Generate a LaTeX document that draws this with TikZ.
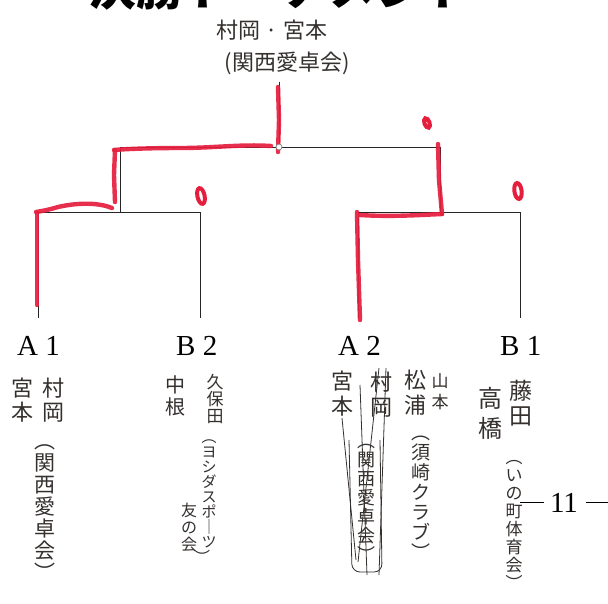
\documentclass[tikz,border=0pt]{standalone}
\usepackage{fontspec}
\setmainfont{Liberation Serif}
\newfontfamily\jp{Noto Sans CJK JP}
\definecolor{ink}{RGB}{52,48,46}
\definecolor{marker}{RGB}{230,30,62}
\tikzset{
  wire/.style={draw=black!85, line width=0.8pt},
  redpen/.style={draw=marker, line width=4.4pt, line cap=round, line join=round, opacity=0.92},
  zero/.style={draw=marker, line width=4pt},
  hw/.style={font=\jp\fontsize{#1}{#1}\selectfont, text=ink, align=center, inner sep=0pt},
  hw/.default=20,
  lbl/.style={font=\fontsize{29}{29}\selectfont, inner sep=0pt, anchor=base west},
  scrib/.style={draw=ink, line width=0.8pt},
}
\begin{document}
\begin{tikzpicture}[x=1pt,y=-1pt]
\useasboundingbox (0,0) rectangle (608,603);
\fill[white] (0,0) rectangle (608,603);
% title (mostly cut off, as in the reference)
\node[font=\jp\bfseries\fontsize{48}{48}\selectfont, anchor=base west, inner sep=0pt] (title) at (88,5) {決勝トーナメント};
% champion
\node[hw=22] (champ) at (272,30) {村岡 · 宮本};
\node[hw=22] (champclub) at (287,63) {(関西愛卓会)};
% bracket coordinates
\coordinate (top) at (279,82);
\coordinate (j0) at (279,147);
\coordinate (l1) at (120,147);
\coordinate (r1) at (440,147);
\coordinate (l1b) at (120,212);
\coordinate (r1b) at (440,212);
\coordinate (a1t) at (38,212);  \coordinate (a1b) at (38,318);
\coordinate (b2t) at (200,212); \coordinate (b2b) at (200,318);
\coordinate (a2t) at (358,212); \coordinate (a2b) at (358,318);
\coordinate (b1t) at (520,212); \coordinate (b1b) at (520,318);
\draw[wire] (top) -- (j0);
\draw[wire] (l1b) -- (l1) -- (r1) -- (r1b);
\draw[wire] (a1b) -- (a1t) -- (b2t) -- (b2b);
\draw[wire] (a2b) -- (a2t) -- (b1t) -- (b1b);
% red marker
\draw[redpen] (278,87) -- (279,120) -- (278,152);
\draw[redpen] (271,146) .. controls (240,144) and (215,148) .. (180,148) .. controls (150,148) and (125,149) .. (114,150);
\draw[redpen] (115,150) -- (114,175) -- (115,202);
\draw[redpen] (112,208) .. controls (100,203) and (80,202) .. (58,207) .. controls (48,210) and (42,211) .. (36,212);
\draw[redpen] (37,213) -- (37,260) -- (37,305);
\draw[redpen] (438,144) -- (439,180) -- (442,214);
\draw[redpen] (442,214) .. controls (420,215) and (390,217) .. (360,215);
\draw[redpen] (357,212) -- (358,260) -- (360,320);
\draw[gray, line width=0.7pt, fill=white] (j0) circle (3);
\draw[zero] (427,123) ellipse [x radius=2.6, y radius=5, rotate=20];
\draw[zero] (201,196) ellipse [x radius=3.6, y radius=8, rotate=12];
\draw[zero] (518,191) ellipse [x radius=3.6, y radius=8, rotate=8];
% labels
\node[lbl] (A1) at (17,355) {A 1};
\node[lbl] (B2) at (176,355) {B 2};
\node[lbl] (A2) at (338,355) {A 2};
\node[lbl] (B1) at (500,355) {B 1};
% A1 names
\node[hw=22] (a1n1) at (53,400) {村\\[2pt]岡};
\node[hw=22] (a1n2) at (22,400) {宮\\[2pt]本};
\node[hw=21] (a1club) at (45,513) {︵\\[1pt]関\\[1pt]西\\[1pt]愛\\[1pt]卓\\[1pt]会\\[1pt]︶};
% B2 names
\node[hw=17] (b2n1) at (215,399) {久\\保\\田};
\node[hw=20] (b2n2) at (175,396) {中\\[2pt]根};
\node[hw=15] (b2club1) at (209,494) {︵\\ヨ\\シ\\ダ\\ス\\ポ\\｜\\ツ};
\node[hw=16] (b2club2) at (189,527) {友\\[1pt]の\\[1pt]会};
\node[hw=16] (b2close) at (202,557) {︶};
% A2 names
\node[hw=22] (a2n1) at (381,395) {村\\[3pt]岡};
\node[hw=22] (a2n2) at (342,394) {宮\\[3pt]本};
\node[hw=18] (a2club) at (366,503) {︵\\[1pt]関\\[1pt]西\\[1pt]愛\\[1pt]卓\\[1pt]会\\[1pt]︶};
\node[hw=17] (a2n3) at (440,392) {山\\[4pt]本};
\node[hw=22] (a2n4) at (415,393) {松\\[3pt]浦};
\node[hw=19] (a2club2) at (421,498) {︵\\[1pt]須\\[1pt]崎\\[1pt]ク\\[1pt]ラ\\[1pt]ブ\\[1pt]︶};
% A2 scribbles
\draw[scrib] (360,385) -- (367,575);
\draw[scrib] (379,368) -- (358,562);
\draw[scrib] (386,368) -- (379,575);
\draw[scrib] (342,418) -- (356,560);
\draw[scrib, rounded corners=8pt] (349,440) -- (352,572) -- (382,572) -- (380,440);
% B1 names
\node[hw=23] (b1n1) at (521,403) {藤\\[2pt]田};
\node[hw=24] (b1n2) at (490,413) {高\\[6pt]橋};
\node[hw=17] (b1club) at (514,525) {︵\\[1pt]い\\[1pt]の\\[1pt]町\\[1pt]体\\[1pt]育\\[1pt]会\\[1pt]︶};
% page number
\node[font=\fontsize{29}{29}\selectfont, inner sep=0pt] (pg) at (564,503) {11};
\coordinate (d1a) at (520,502); \coordinate (d1b) at (544,502);
\coordinate (d2a) at (586,502); \coordinate (d2b) at (608,502);
\draw[line width=0.9pt] (d1a) -- (d1b);
\draw[line width=0.9pt] (d2a) -- (d2b);
\end{tikzpicture}
\end{document}
